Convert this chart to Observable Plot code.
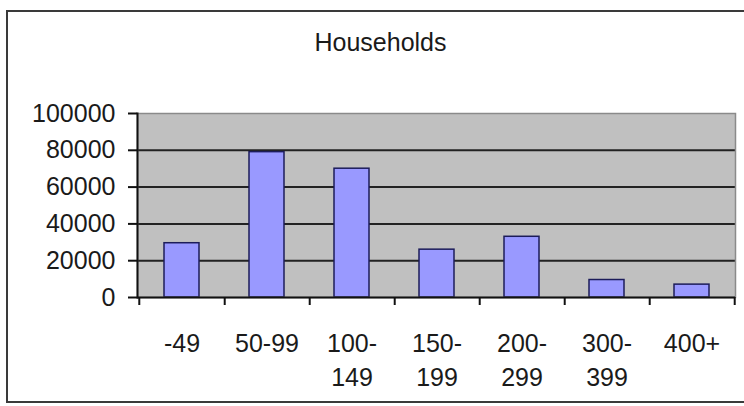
<!DOCTYPE html>
<html>
<head>
<meta charset="utf-8">
<script src="https://cdn.jsdelivr.net/npm/d3@7"></script>
<script src="https://cdn.jsdelivr.net/npm/@observablehq/plot@0.6"></script>
<style>
  html, body { margin: 0; padding: 0; background: #fff; overflow: hidden; }
  #wrap { position: relative; width: 744px; height: 406px; }
  #border { position: absolute; left: 6px; top: 10px; width: 800px; height: 393px; border: 2px solid #3a3a3a; box-sizing: border-box; }
  #chart { position: absolute; left: 0; top: 0; }
</style>
</head>
<body>
<div id="wrap"><div id="border"></div><div id="chart"></div></div>
<script>
const title = "Households";
const categories = ["-49", "50-99", "100-149", "150-199", "200-299", "300-399", "400+"];
const values = [29500, 79000, 70000, 26000, 33000, 9500, 7000];
const tickLabels = ["-49", "50-99", "100-\n149", "150-\n199", "200-\n299", "300-\n399", "400+"];
const yTicks = [0, 20000, 40000, 60000, 80000, 100000];
const gridTicks = [20000, 40000, 60000, 80000];

const data = categories.map((c, i) => ({cat: c, value: values[i]}));

const W = 744, H = 406, mL = 137, mR = 9, mT = 113, mB = 109;
const halfStep = (W - mL - mR) / categories.length / 2;

const chart = Plot.plot({
  width: W,
  height: H,
  marginLeft: mL,
  marginRight: mR,
  marginTop: mT,
  marginBottom: mB,
  style: {fontFamily: "'Liberation Sans', Arial, sans-serif", fontSize: "25px", color: "#1a1a1a", background: "transparent", overflow: "visible"},
  x: {domain: categories, paddingInner: 0.59, paddingOuter: 0.295, axis: null, label: null},
  y: {domain: [0, 100000], axis: null, label: null},
  marks: [
    Plot.frame({fill: "#c0c0c0", stroke: null}),
    Plot.gridY(gridTicks, {stroke: "#222", strokeOpacity: 1, strokeWidth: 2}),
    Plot.barY(data, {x: "cat", y: "value", fill: "#9999ff", stroke: "#1c1c5a", strokeWidth: 1.5}),
    Plot.frame({stroke: "#8a8a8a", strokeWidth: 1.5}),
    Plot.ruleY([0], {stroke: "#111", strokeWidth: 2}),
    Plot.frame({anchor: "left", stroke: "#111", strokeWidth: 2}),
    Plot.axisY(yTicks, {anchor: "left", label: null, tickSize: 9, tickPadding: 13, tickFormat: d3.format("d"), stroke: "#111", strokeWidth: 2, fill: "#1a1a1a", fontSize: 25}),
    Plot.axisX(categories, {anchor: "bottom", label: null, tickSize: 8, dx: halfStep, tickFormat: () => "", stroke: "#111", strokeWidth: 2}),
    Plot.axisX([categories[0]], {anchor: "bottom", label: null, tickSize: 8, dx: -halfStep, tickFormat: () => "", stroke: "#111", strokeWidth: 2}),
    Plot.axisX(categories, {anchor: "bottom", label: null, tickSize: 0, tickPadding: 30, lineHeight: 1.36, tickFormat: d => tickLabels[categories.indexOf(d)], fill: "#1a1a1a", fontSize: 25}),
    Plot.text([title], {frameAnchor: "top", dx: -56, dy: -71, lineAnchor: "middle", fontSize: 25, fill: "#1a1a1a"})
  ]
});
document.getElementById("chart").appendChild(chart);
</script>
</body>
</html>
